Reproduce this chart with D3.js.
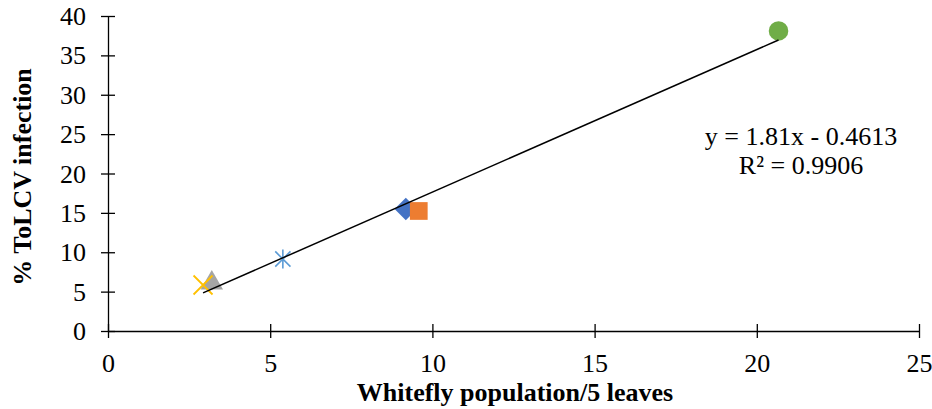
<!DOCTYPE html>
<html>
<head>
<meta charset="utf-8">
<script src="https://cdn.jsdelivr.net/npm/d3@7"></script>
<style>
  html, body { margin: 0; padding: 0; background: #fff; }
  svg { display: block; font-family: "Liberation Serif", "Times New Roman", serif; }
</style>
</head>
<body>
<svg id="chart" width="932" height="409"></svg>
<script>
// Whitefly counts (per 5 leaves) against % ToLCV infection, one marker per treatment
const seriesNames = ["S1", "S2", "S3", "S4", "S5", "S6"];
const whitefly = [9.18, 9.58, 3.2, 2.93, 5.39, 20.67];
const infection = [15.5, 15.24, 5.97, 5.84, 9.14, 38.1];
const markerShapes = ["diamond", "square", "triangle", "x", "asterisk", "circle"];
const markerColors = ["#4472C4", "#ED7D31", "#A5A5A5", "#FFC000", "#5B9BD5", "#70AD47"];

const xTicks = [0, 5, 10, 15, 20, 25];
const yTicks = [0, 5, 10, 15, 20, 25, 30, 35, 40];

// Linear trendline fitted to the points
const slope = 1.81, intercept = -0.4613, rSquared = 0.9906;

const svg = d3.select("#chart");
const margin = { left: 108, right: 13, top: 16, bottom: 78 };
const W = 932, H = 409;
const FS = 26;

const x = d3.scaleLinear().domain([0, 25]).range([margin.left, W - margin.right]);
const y = d3.scaleLinear().domain([0, 40]).range([H - margin.bottom, margin.top]);

// Axes with ticks crossing the axis line
const xAxis = d3.axisBottom(x).tickValues(xTicks).tickSizeInner(7).tickSizeOuter(0);
const yAxis = d3.axisLeft(y).tickValues(yTicks).tickSizeInner(7).tickSizeOuter(0);

const gx = svg.append("g").attr("transform", `translate(0,${y(0)})`).call(xAxis);
const gy = svg.append("g").attr("transform", `translate(${x(0)},0)`).call(yAxis);

[gx, gy].forEach(g => {
  g.select(".domain").attr("stroke", "#000").attr("stroke-width", 1.3);
  g.selectAll(".tick text").attr("font-family", "Liberation Serif, serif").attr("font-size", FS).attr("fill", "#000");
});
gx.selectAll(".tick line").attr("y1", -7).attr("y2", 7).attr("stroke", "#000").attr("stroke-width", 1.3);
gx.selectAll(".tick text").attr("dy", null).attr("y", 41);
gy.selectAll(".tick line").attr("x1", -7).attr("x2", 7).attr("stroke", "#000").attr("stroke-width", 1.3);
gy.selectAll(".tick text").attr("x", -22).attr("dy", "0.33em");

// Markers
const sym = {
  diamond: d3.symbol().type(d3.symbolDiamond2).size(320),
  square: d3.symbol().type(d3.symbolSquare2).size(400),
  triangle: d3.symbol().type(d3.symbolTriangle2).size(360),
  circle: d3.symbol().type(d3.symbolCircle).size(300)
};

const pts = svg.append("g");
whitefly.forEach((wx, i) => {
  const cx = x(wx), cy = y(infection[i]);
  const shape = markerShapes[i], col = markerColors[i];
  const g = pts.append("g").attr("transform", `translate(${cx},${cy})`);
  if (shape === "x") {
    const r = 9.5;
    g.append("path").attr("d", `M${-r},${-r}L${r},${r}M${-r},${r}L${r},${-r}`)
      .attr("stroke", col).attr("stroke-width", 1.8).attr("fill", "none");
  } else if (shape === "asterisk") {
    const r = 9.5;
    g.append("path").attr("d", `M${-r * 0.8},${-r * 0.8}L${r * 0.8},${r * 0.8}M${-r * 0.8},${r * 0.8}L${r * 0.8},${-r * 0.8}M0,${-r}L0,${r}`)
      .attr("stroke", col).attr("stroke-width", 1.6).attr("fill", "none");
  } else {
    g.append("path").attr("d", sym[shape]()).attr("fill", col)
      .attr("transform", shape === "triangle" ? "translate(0,-1)" : null);
  }
});

// Trendline across the range of the data
const [xmin, xmax] = d3.extent(whitefly);
svg.append("line")
  .attr("x1", x(xmin)).attr("y1", y(slope * xmin + intercept))
  .attr("x2", x(xmax)).attr("y2", y(slope * xmax + intercept))
  .attr("stroke", "#000").attr("stroke-width", 1.5);

// Trendline equation
const eq = svg.append("g").attr("font-size", FS).attr("fill", "#000").attr("text-anchor", "middle");
eq.append("text").attr("x", 801).attr("y", 145).text(`y = ${slope}x - ${Math.abs(intercept)}`);
eq.append("text").attr("x", 801).attr("y", 174).text(`R² = ${rSquared}`);

// Axis titles
svg.append("text")
  .attr("x", 515).attr("y", 401)
  .attr("text-anchor", "middle").attr("font-weight", "bold").attr("font-size", FS)
  .text("Whitefly population/5 leaves");

svg.append("text")
  .attr("transform", `translate(31,177) rotate(-90)`)
  .attr("text-anchor", "middle").attr("font-weight", "bold").attr("font-size", FS)
  .text("% ToLCV infection");
</script>
</body>
</html>
